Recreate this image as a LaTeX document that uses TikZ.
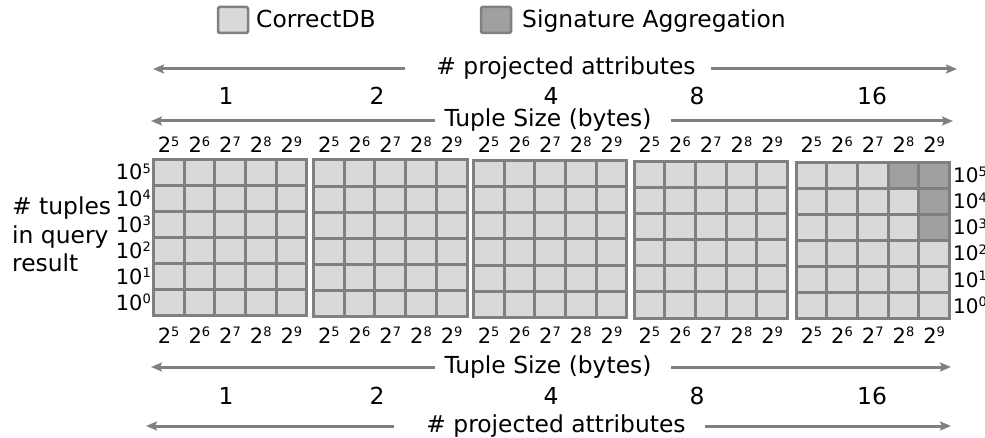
\documentclass[tikz,border=0pt]{standalone}
\usepackage{fontspec}
\setmainfont{DejaVu Sans}
\usetikzlibrary{arrows.meta}
\definecolor{cellfill}{HTML}{D9D9D9}
\definecolor{sigfill}{HTML}{A0A0A0}
\definecolor{gridline}{HTML}{808080}
\definecolor{axisgray}{HTML}{808080}
% base with a small raised exponent
\newcommand\pwr[2]{#1\raisebox{6.5pt}{\fontsize{13}{13}\selectfont #2}}

\begin{document}
\begin{tikzpicture}[x=1pt,y=-1pt,
  txt/.style={font=\fontsize{23.4}{28}\selectfont, inner sep=0pt},
  lbl/.style={font=\fontsize{21}{21}\selectfont, inner sep=0pt},
  rlbl/.style={font=\fontsize{20}{20}\selectfont, inner sep=0pt},
  axisarrow/.style={draw=axisgray, line width=3pt, -{Stealth[length=11pt,width=9pt,inset=2pt]}},
  gridrule/.style={draw=gridline, line width=3pt, line cap=rect},
  legendbox/.style={draw=gridline, line width=2.5pt, rounded corners=1.5pt}]
\useasboundingbox (0,0) rectangle (985,438);

% legend
\draw[legendbox, fill=cellfill] (218,7) rectangle (248,33);
\node[txt, anchor=base west] (legA) at (256,28) {CorrectDB};
\draw[legendbox, fill=sigfill] (481,7) rectangle (511,33);
\node[txt, anchor=base west] (legB) at (522,28) {Signature Aggregation};

% five 5x6 grids: left x, top y
\def\cw{30.7}
\def\ch{26.1}
\foreach \g/\gx/\gy in {1/153.3/159.3, 2/313.5/160.0, 3/473.3/160.7, 4/634.0/161.5, 5/796.0/162.3} {
  \fill[cellfill] (\gx,\gy) rectangle ++(5*\cw,6*\ch);
  \ifnum\g=5
    \fill[sigfill] (\gx+3*\cw,\gy) rectangle ++(2*\cw,\ch);
    \fill[sigfill] (\gx+4*\cw,\gy+\ch) rectangle ++(\cw,2*\ch);
  \fi
  \foreach \c in {1,...,4}
    \draw[gridrule] (\gx+\c*\cw,\gy) -- ++(0,6*\ch);
  \foreach \r in {1,...,5}
    \draw[gridrule] (\gx,\gy+\r*\ch) -- ++(5*\cw,0);
  \draw[gridrule, line join=miter] (\gx,\gy) rectangle ++(5*\cw,6*\ch);
  % exponent labels above and below
  \foreach \c in {0,...,4} {
    \pgfmathtruncatemacro\e{5+\c}
    \node[lbl, anchor=base] (t\g\c) at (\gx+\c*\cw+0.5*\cw,153) {\pwr{2}{\e}};
    \node[lbl, anchor=base] (b\g\c) at (\gx+\c*\cw+0.5*\cw,343) {\pwr{2}{\e}};
  }
}

% row labels on both sides
\foreach \r in {0,...,5} {
  \pgfmathtruncatemacro\e{5-\r}
  \node[lbl, anchor=base east] (l\r) at (151,159.3+\r*\ch+0.5*\ch+7.6) {\pwr{10}{\e}};
  \node[rlbl, anchor=base west] (r\r) at (953,162.3+\r*\ch+0.5*\ch+7.3) {\pwr{10}{\e}};
}

% y-axis title
\node[txt, anchor=base west] (ya1) at (12,215) {\# tuples};
\node[txt, anchor=base west] (ya2) at (12,243.5) {in query};
\node[txt, anchor=base west] (ya3) at (12,272) {result};

% attribute counts
\foreach \n/\x in {1/226, 2/377, 4/551, 8/697, 16/872} {
  \node[txt, anchor=base] (ta\n) at (\x,105) {\n};
  \node[txt, anchor=base] (ba\n) at (\x,404) {\n};
}

% axis titles with their arrows
\node[txt, anchor=base] (paT) at (566,75) {\# projected attributes};
\node[txt, anchor=base] (tsT) at (548,127) {Tuple Size (bytes)};
\node[txt, anchor=base] (tsB) at (548,373) {Tuple Size (bytes)};
\node[txt, anchor=base] (paB) at (556,432) {\# projected attributes};

\coordinate (paTl0) at (405,69);  \coordinate (paTl) at (153,69);
\coordinate (paTr0) at (711,69);  \coordinate (paTr) at (957,69);
\coordinate (tsTl0) at (435,121); \coordinate (tsTl) at (151,121);
\coordinate (tsTr0) at (671,121); \coordinate (tsTr) at (953,121);
\coordinate (tsBl0) at (435,367); \coordinate (tsBl) at (151,367);
\coordinate (tsBr0) at (671,367); \coordinate (tsBr) at (951,367);
\coordinate (paBl0) at (394,426); \coordinate (paBl) at (146,426);
\coordinate (paBr0) at (705,426); \coordinate (paBr) at (951,426);

\draw[axisarrow] (paTl0) -- (paTl);
\draw[axisarrow] (paTr0) -- (paTr);
\draw[axisarrow] (tsTl0) -- (tsTl);
\draw[axisarrow] (tsTr0) -- (tsTr);
\draw[axisarrow] (tsBl0) -- (tsBl);
\draw[axisarrow] (tsBr0) -- (tsBr);
\draw[axisarrow] (paBl0) -- (paBl);
\draw[axisarrow] (paBr0) -- (paBr);
\end{tikzpicture}
\end{document}
